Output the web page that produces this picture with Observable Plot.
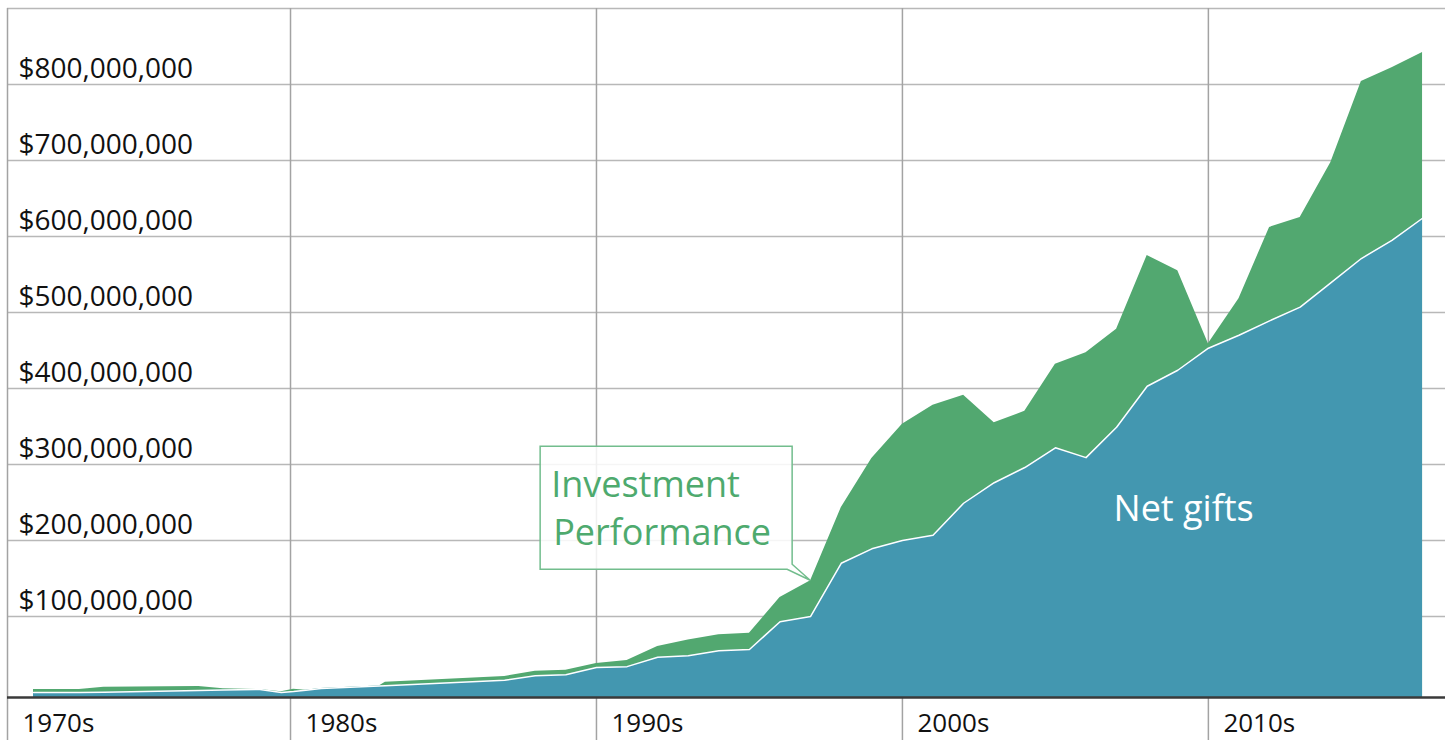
<!DOCTYPE html>
<html>
<head>
<meta charset="utf-8">
<script src="https://cdn.jsdelivr.net/npm/d3@7"></script>
<script src="https://cdn.jsdelivr.net/npm/@observablehq/plot@0.6"></script>
<style>
  html, body { margin: 0; padding: 0; background: #fff; }
  #chart svg { display: block; }
</style>
</head>
<body>
<div id="chart"></div>
<script>
// ---- Data (values in millions of dollars) ----
const years = [1971.6, 1973.1, 1973.9, 1977.0, 1977.8, 1979.0, 1979.7, 1980.1, 1980.5, 1981.0, 1982.9, 1983.1,
  1987, 1988, 1989, 1990, 1991, 1992, 1993, 1994, 1995, 1996, 1997, 1998, 1999, 2000,
  2001, 2002, 2003, 2004, 2005, 2006, 2007, 2008, 2009, 2010, 2011, 2012, 2013, 2014, 2015, 2016, 2017];
const netGifts = [0, 0, 0.3, 2.6, 3.2, 3.9, 0, 1.3, 3, 5.3, 8.5, 9,
  16, 22, 23.3, 33, 34, 46.4, 48.3, 55, 56.6, 93, 100, 170, 189, 200,
  207, 249, 276, 296, 322, 309, 349, 403, 424, 453, 470, 489, 507, 539, 571, 595, 624];
const totalValue = [4, 4, 6.9, 7.9, 5, 3.9, 1, 4.3, 3, 5.3, 8.5, 13.5,
  21, 28, 29.3, 38, 42, 60.5, 69, 76, 78, 125, 147, 243, 308, 353,
  378, 391, 355, 370, 432, 447, 478, 575, 555, 459, 518, 612, 625, 697, 804, 822, 842];

const yTickValues = [100, 200, 300, 400, 500, 600, 700, 800];   // labelled gridlines ($M)
const yGridValues = [100, 200, 300, 400, 500, 600, 700, 800, 900];
const decadeStarts = [1970, 1980, 1990, 2000, 2010];
const decadeLabels = ["1970s", "1980s", "1990s", "2000s", "2010s"];
const seriesLabels = ["Investment\nPerformance", "Net gifts"];
const calloutYear = 1997;
const netGiftsLabelYear = [2006.9];
const netGiftsLabelValue = [225];

// ---- Styling ----
const GREEN = "#52a870";
const BLUE = "#4397b0";
const M = 1e6;
const xDomain = [1970.75, 2017.75];
const yDomain = [-6.6 * M, 900 * M];

const rows = years.map((y, i) => ({year: y, net: netGifts[i] * M, total: totalValue[i] * M}));
const fmt = d3.format(",");

function callout(index, scales) {
  const i = years.indexOf(calloutYear);
  const tx = scales.x(years[i]);
  const ty = scales.y(totalValue[i] * M);
  const L = tx - 270, R = tx - 18, T = ty - 134, B = ty - 11;
  const g = d3.create("svg:g");
  g.append("path")
    .attr("d", `M${L},${T}H${R}V${B - 5}L${tx},${ty}L${R - 5},${B}H${L}Z`)
    .attr("fill", "#fff").attr("fill-opacity", 0.85)
    .attr("stroke", "#72bd8d").attr("stroke-width", 1.5);
  const lines = seriesLabels[0].split("\n");
  g.append("text").attr("x", L + 11).attr("y", ty - 83).attr("text-anchor", "start")
    .attr("fill", "#4eaa6e").attr("font-size", 36).text(lines[0]);
  g.append("text").attr("x", L + 13).attr("y", ty - 35).attr("text-anchor", "start")
    .attr("fill", "#4eaa6e").attr("font-size", 36).text(lines[1]);
  return g.node();
}

const chart = Plot.plot({
  width: 1451,
  height: 740,
  marginLeft: 7,
  marginRight: 6,
  marginTop: 8,
  marginBottom: 43,
  x: {domain: xDomain, axis: null},
  y: {domain: yDomain, axis: null},
  style: {fontFamily: '"Open Sans", sans-serif', background: "#fff", color: "#111"},
  marks: [
    Plot.ruleY(yGridValues, {y: d => d * M, stroke: "#b8b8b8", strokeWidth: 1.5}),
    Plot.ruleX([xDomain[0], ...decadeStarts.slice(1)], {x: d => d, stroke: "#a3a3a3", strokeWidth: 1.5, insetBottom: -43}),
    Plot.areaY(rows, {x: "year", y1: () => yDomain[0], y2: "total", fill: GREEN}),
    Plot.areaY(rows, {x: "year", y1: () => yDomain[0], y2: "net", fill: BLUE}),
    Plot.lineY(rows, {x: "year", y: "net", stroke: "#fff", strokeWidth: 1.5}),
    Plot.ruleY([yDomain[0]], {stroke: "#3a3a3a", strokeWidth: 2.5}),
    Plot.text(yTickValues, {
      x: () => xDomain[0], y: d => d * M, text: d => "$" + fmt(d * M),
      textAnchor: "start", lineAnchor: "bottom", dx: 11, dy: -6, fontSize: 28, fill: "#111"
    }),
    Plot.text(decadeStarts, {
      x: d => Math.max(d, xDomain[0]), y: () => yDomain[0], text: (d, i) => decadeLabels[i],
      textAnchor: "start", lineAnchor: "bottom", dx: 15, dy: 34, fontSize: 26, fill: "#111"
    }),
    Plot.text(netGiftsLabelYear, {
      x: d => d, y: (d, i) => netGiftsLabelValue[i] * M, text: () => seriesLabels[1],
      textAnchor: "start", lineAnchor: "bottom", fontSize: 36, fill: "#fff"
    }),
    callout
  ]
});

document.getElementById("chart").appendChild(chart);
</script>
</body>
</html>
